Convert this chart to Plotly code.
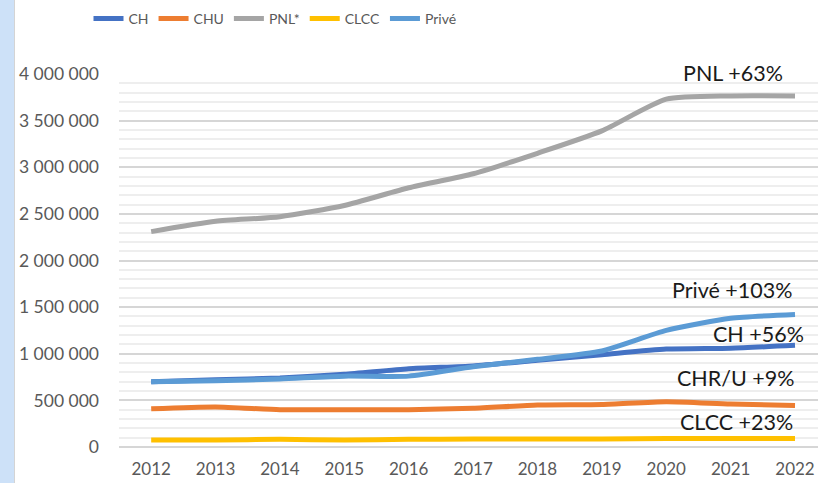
import plotly.graph_objects as go

years = [2012, 2013, 2014, 2015, 2016, 2017, 2018, 2019, 2020, 2021, 2022]
ch = [700000, 720000, 740000, 780000, 840000, 870000, 930000, 990000, 1050000, 1060000, 1090000]
chu = [410000, 430000, 400000, 400000, 400000, 415000, 450000, 455000, 485000, 460000, 445000]
pnl = [2310000, 2420000, 2470000, 2590000, 2780000, 2930000, 3150000, 3390000, 3730000, 3765000, 3765000]
clcc = [75000, 75000, 82000, 75000, 82000, 86000, 86000, 86000, 90000, 92000, 92000]
prive = [700000, 710000, 730000, 760000, 760000, 860000, 940000, 1030000, 1250000, 1380000, 1420000]

series_names = ["CH", "CHU", "PNL*", "CLCC", "Privé"]
series_values = [ch, chu, pnl, clcc, prive]
series_colors = ["#4472C4", "#ED7D31", "#A5A5A5", "#FFC000", "#5B9BD5"]

labels_text = ["PNL +63%", "Privé +103%", "CH +56%", "CHR/U +9%", "CLCC +23%"]
labels_x = [2021.04, 2021.02, 2021.44, 2021.08, 2021.09]
labels_y = [3990000, 1684000, 1212000, 740000, 268000]
labels_shift = [2, 0, 0, 0, 0]

fig = go.Figure()
for name, vals, col in zip(series_names, series_values, series_colors):
    fig.add_trace(go.Scatter(
        x=years, y=vals, name=name, mode="lines",
        line=dict(color=col, width=5, shape="spline", smoothing=0.6),
    ))

for t, x, y, s in zip(labels_text, labels_x, labels_y, labels_shift):
    fig.add_annotation(x=x, y=y, text=t, showarrow=False, xanchor="center", yanchor="middle",
                       yshift=s, font=dict(family="Lato", size=21.5, color="#1a1a1a"))

W, H = 818, 483
L, R, T, B = 119, 0, 74, 36
pw = W - L - R
ph = H - T - B

fig.add_shape(type="rect", xref="paper", yref="paper",
              x0=-L / pw, x1=(14 - L) / pw, y0=-B / ph, y1=1 + T / ph,
              fillcolor="#cde1f8", line=dict(width=0), layer="below")
fig.add_shape(type="line", xref="paper", yref="paper",
              x0=(14.5 - L) / pw, x1=(14.5 - L) / pw, y0=-B / ph, y1=1 + T / ph,
              line=dict(color="#d4d4d4", width=1))

fig.update_layout(
    width=W, height=H,
    margin=dict(l=L, r=R, t=T, b=B),
    paper_bgcolor="white", plot_bgcolor="white",
    separators=", ",
    font=dict(family="Lato", color="#595959"),
    legend=dict(orientation="h", x=(275 - L) / pw, xanchor="center", y=1 + (74 - 19) / ph, yanchor="middle",
                font=dict(family="Lato", size=14, color="#595959"),
                itemwidth=30, bgcolor="rgba(0,0,0,0)"),
    xaxis=dict(range=[2011.5, 2012 + (818 - 151) / 64.4], tickvals=years, ticktext=[str(y) for y in years],
               showgrid=False, zeroline=False, showline=False, ticks="", ticklabelstandoff=10,
               tickfont=dict(family="Lato", size=17, color="#595959"), fixedrange=True),
    yaxis=dict(range=[0, 4000000], dtick=500000, tickformat=",d",
               showgrid=True, gridcolor="#d6d6d6", gridwidth=1.5,
               zeroline=True, zerolinecolor="#d6d6d6", zerolinewidth=1.5,
               minor=dict(dtick=100000, showgrid=True, gridcolor="#eeeeee", gridwidth=1.5),
               ticks="", ticklabelstandoff=19,
               tickfont=dict(family="Lato", size=17.5, color="#595959"), fixedrange=True),
    showlegend=True,
)

fig.write_html("out.html", config={"displayModeBar": False},
               post_script="document.body.style.margin='0px';")
